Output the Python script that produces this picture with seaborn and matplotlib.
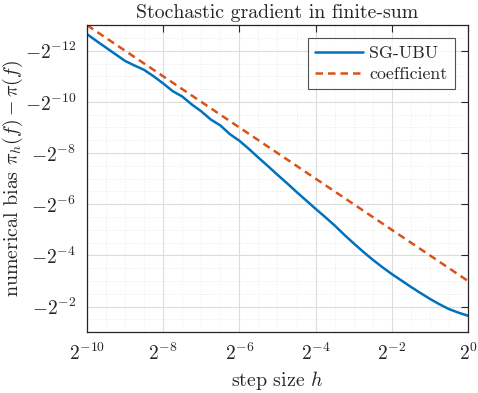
import numpy as np
import pandas as pd
import seaborn as sns
import matplotlib.pyplot as plt
from matplotlib.ticker import FixedLocator, FixedFormatter

# step size exponents (h = 2^k) and log2 of |bias|
h_exp = [-10, -9.75, -9.5, -9.25, -9, -8.75, -8.5, -8.25, -8, -7.75, -7.5, -7.25,
         -7, -6.75, -6.5, -6.25, -6, -5.75, -5.5, -5.25, -5, -4.75, -4.5, -4.25,
         -4, -3.75, -3.5, -3.25, -3, -2.75, -2.5, -2.25, -2, -1.75, -1.5, -1.25,
         -1, -0.75, -0.5, -0.25, 0]
sgubu_log2 = [-12.65, -12.38, -12.12, -11.86, -11.6, -11.42, -11.25, -11.0, -10.72,
              -10.42, -10.21, -9.9, -9.63, -9.31, -9.08, -8.74, -8.48, -8.16, -7.82,
              -7.49, -7.15, -6.82, -6.48, -6.15, -5.82, -5.5, -5.17, -4.81, -4.47,
              -4.14, -3.83, -3.54, -3.27, -3.02, -2.77, -2.53, -2.3, -2.09, -1.9,
              -1.76, -1.64]
coef_exp = [-10, 0]
coef_log2 = [-13, -3]

xtick_exp = [-10, -8, -6, -4, -2, 0]
ytick_exp = [-12, -10, -8, -6, -4, -2]

sgubu = pd.DataFrame({"h": np.power(2.0, h_exp), "bias": np.power(2.0, sgubu_log2)})
coef = pd.DataFrame({"h": np.power(2.0, coef_exp), "bias": np.power(2.0, coef_log2)})

sns.set_theme(style="white")
plt.rcParams['font.family'] = ['cmr10', 'DejaVu Serif']
plt.rcParams['mathtext.fontset'] = 'cm'
plt.rcParams['axes.formatter.use_mathtext'] = True
plt.rcParams['axes.unicode_minus'] = False

fig = plt.figure(figsize=(4.78, 3.93), dpi=100)
ax = fig.add_axes([0.182, 0.155, 0.797, 0.781])

sns.lineplot(data=sgubu, x="h", y="bias", ax=ax, color='#0072BD', lw=1.8, label='SG-UBU')
sns.lineplot(data=coef, x="h", y="bias", ax=ax, color='#D95319', lw=1.8,
             ls=(0, (3.0, 2.0)), label='coefficient')

ax.set_xscale('log', base=2)
ax.set_yscale('log', base=2)
ax.set_xlim(2.0**-10, 1)
ax.set_ylim(2.0**-1, 2.0**-13)

ax.xaxis.set_major_locator(FixedLocator(np.power(2.0, xtick_exp)))
ax.xaxis.set_major_formatter(FixedFormatter([r'$2^{%d}$' % k for k in xtick_exp]))
ax.yaxis.set_major_locator(FixedLocator(np.power(2.0, ytick_exp)))
ax.yaxis.set_major_formatter(FixedFormatter([r'$-2^{%d}$' % k for k in ytick_exp]))
ax.xaxis.set_minor_locator(FixedLocator(np.power(2.0, np.arange(-10, 0.01, 0.5))))
ax.yaxis.set_minor_locator(FixedLocator(np.power(2.0, np.arange(-13, -0.99, 0.5))))
ax.xaxis.set_minor_formatter(FixedFormatter([]))
ax.yaxis.set_minor_formatter(FixedFormatter([]))

ax.grid(True, which='major', color='#dcdcdc', lw=0.8, ls='-')
ax.grid(True, which='minor', color='#e6e6e6', lw=0.6, ls=(0, (1, 2)))
ax.set_axisbelow(True)

ax.tick_params(which='major', direction='in', length=5, width=0.8, color='#262626',
               top=True, right=True, labelsize=14, pad=8)
ax.tick_params(which='minor', length=0)
for s in ax.spines.values():
    s.set_color('#262626')
    s.set_linewidth(0.9)

ax.set_title('Stochastic gradient in finite-sum', fontsize=14.3, pad=5)
ax.set_xlabel(r'step size $h$', fontsize=14.3, labelpad=3)
ax.set_ylabel(r'numerical bias $\pi_h(f)-\pi(f)$', fontsize=14.3, labelpad=0)

leg = ax.legend(loc='upper right', fontsize=12.8, frameon=True, fancybox=False,
                edgecolor='#262626', handlelength=2.7, handletextpad=0.35,
                borderaxespad=0.75, labelspacing=0.3, borderpad=0.4)
leg.get_frame().set_linewidth(0.8)

fig.savefig('out.png', dpi=100)
